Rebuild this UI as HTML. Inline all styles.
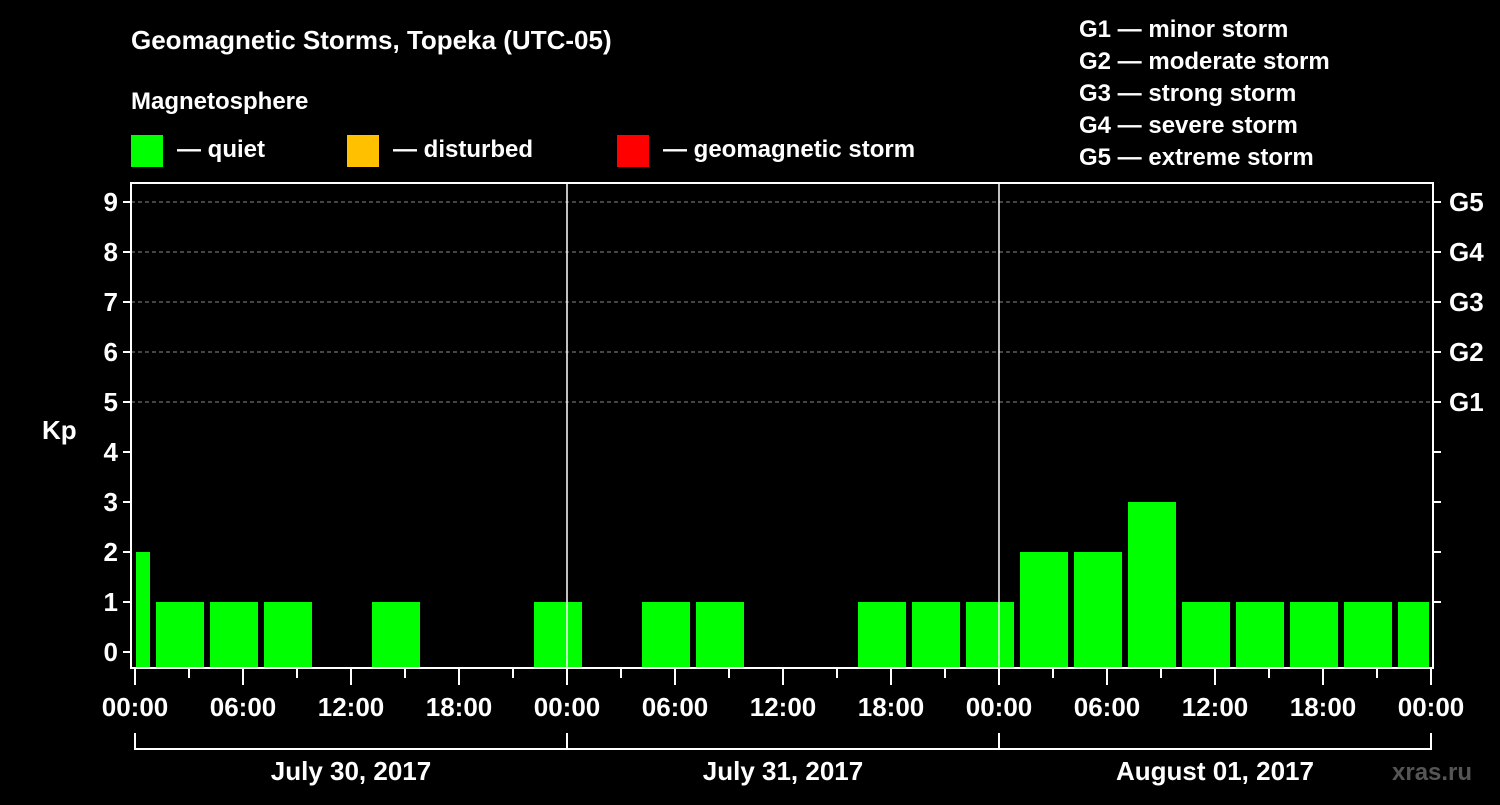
<!DOCTYPE html>
<html><head><meta charset="utf-8"><style>
body{margin:0;background:#000;width:1500px;height:800px;overflow:hidden;font-family:"Liberation Sans",Arial,sans-serif}
svg text{font-family:"Liberation Sans",Arial,sans-serif;font-weight:bold;fill:#fff}
</style></head><body>
<svg id="chart" width="1500" height="800" xmlns="http://www.w3.org/2000/svg">
<text x="131" y="49" font-size="26">Geomagnetic Storms, Topeka (UTC-05)</text>
<text x="131" y="109" font-size="24">Magnetosphere</text>
<g>
<rect x="131" y="135" width="32" height="32" fill="#00ff00"/>
<text x="177" y="157" font-size="24">— quiet</text>
<rect x="347" y="135" width="32" height="32" fill="#ffc000"/>
<text x="393" y="157" font-size="24">— disturbed</text>
<rect x="617" y="135" width="32" height="32" fill="#ff0000"/>
<text x="663" y="157" font-size="24">— geomagnetic storm</text>
</g>
<g font-size="24">
<text x="1079" y="37">G1 — minor storm</text>
<text x="1079" y="69">G2 — moderate storm</text>
<text x="1079" y="101">G3 — strong storm</text>
<text x="1079" y="133">G4 — severe storm</text>
<text x="1079" y="165">G5 — extreme storm</text>
</g>
<text x="42" y="439" font-size="26">Kp</text>
<text x="1392" y="780" font-size="24" fill="#555" style="fill:#555">xras.ru</text>
<g id="grid"></g><g id="bars"></g><g id="axes"></g>
</svg>
<script>
const kpValues=[2,1,1,1,0,1,0,0,1,0,1,1,0,0,1,1,1,2,2,3,1,1,1,1,1];
const yTicks=[0,1,2,3,4,5,6,7,8,9];
const gLabels=["G1","G2","G3","G4","G5"];
const gLevels=[5,6,7,8,9];
const xTickLabels=["00:00","06:00","12:00","18:00","00:00","06:00","12:00","18:00","00:00","06:00","12:00","18:00","00:00"];
const dayLabels=["July 30, 2017","July 31, 2017","August 01, 2017"];
const firstBarStartHour=-2;
const barHours=3;
const NS="http://www.w3.org/2000/svg";
const X0=135,PXH=18,Y0=652,PXK=50,L=131,R=1433,T=183,B=668;
const xs=h=>X0+h*PXH, ys=k=>Y0-k*PXK;
function mk(tag,attrs,parent,txt){const e=document.createElementNS(NS,tag);for(const k in attrs)e.setAttribute(k,attrs[k]);if(txt!==undefined)e.textContent=txt;parent.appendChild(e);return e;}
const grid=document.getElementById('grid'),bars=document.getElementById('bars'),axes=document.getElementById('axes');
gLevels.forEach((g,i)=>{
 const l=mk('line',{x1:L,x2:R,y1:ys(g),y2:ys(g),stroke:'#888','stroke-dasharray':'4,3','stroke-width':1},grid);
 
 
 const t=mk('line',{x1:R,x2:R+8,y1:ys(g),y2:ys(g),stroke:'#fff','stroke-width':2},axes);
 
 
 const tx=mk('text',{x:1449,y:ys(g)+9,'font-size':26},axes,gLabels[i]);
 
 
});
[1,2,3,4].forEach(k=>{const t=mk('line',{x1:R,x2:R+8,y1:ys(k),y2:ys(k),stroke:'#fff','stroke-width':2},axes);
 
 });
kpValues.forEach((v,i)=>{
 if(v<=0)return;
 let x1=xs(firstBarStartHour+i*barHours)+3, x2=xs(firstBarStartHour+(i+1)*barHours)-3;
 x1=Math.max(x1,X0+1); x2=Math.min(x2,R-4);
 const c=v>=5?'#ff0000':(v>=4?'#ffc000':'#00ff00');
 const r=mk('rect',{x:x1,y:ys(v),width:x2-x1,height:B-ys(v),fill:c},bars);
 
 
});
const box=mk('rect',{x:L,y:T,width:R-L,height:B-T,fill:'none',stroke:'#fff','stroke-width':2},axes);


[1,2].forEach(d=>{const l=mk('line',{x1:xs(24*d),x2:xs(24*d),y1:T,y2:B,stroke:'#fff','stroke-width':1.5},axes);
 
 });
yTicks.forEach(k=>{
 const t=mk('line',{x1:L-8,x2:L,y1:ys(k),y2:ys(k),stroke:'#fff','stroke-width':2},axes);
 
 
 const tx=mk('text',{x:118,y:ys(k)+9,'font-size':26,'text-anchor':'end'},axes,String(k));
 
 
});
for(let h=0;h<=72;h+=3){
 const major=h%6===0;
 const t=mk('line',{x1:xs(h),x2:xs(h),y1:B,y2:major?B+17:B+10,stroke:'#fff','stroke-width':2},axes);
 
 
}
xTickLabels.forEach((s,i)=>{
 const tx=mk('text',{x:xs(i*6),y:716,'font-size':26,'text-anchor':'middle'},axes,s);
 
 
});
const br=mk('line',{x1:X0,x2:xs(72),y1:749,y2:749,stroke:'#fff','stroke-width':2},axes);


for(let d=0;d<=3;d++){const t=mk('line',{x1:xs(24*d),x2:xs(24*d),y1:733,y2:750,stroke:'#fff','stroke-width':2},axes);
 
 }
dayLabels.forEach((s,i)=>{
 const tx=mk('text',{x:xs(24*i+12),y:780,'font-size':26,'text-anchor':'middle'},axes,s);
 
 
});
</script>
</body></html>
